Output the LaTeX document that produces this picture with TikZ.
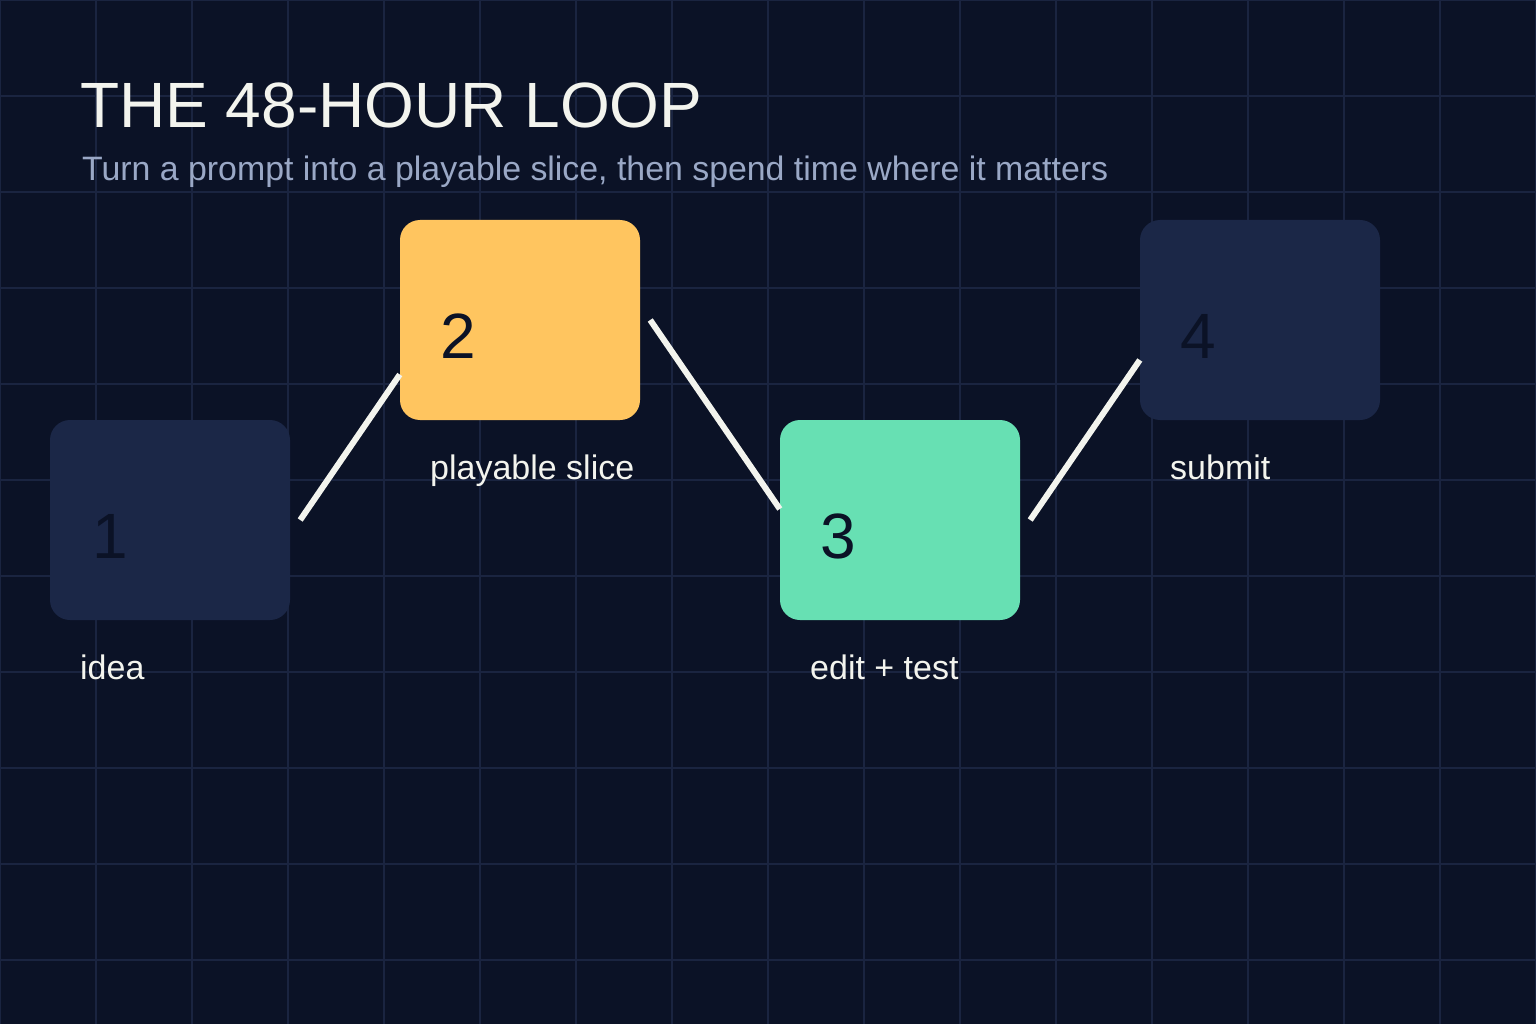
\documentclass[tikz,border=0pt]{standalone}
\usepackage{fontspec}
\setmainfont{Liberation Sans}
\usetikzlibrary{calc}
\definecolor{night}{HTML}{0B1226}
\definecolor{gridline}{HTML}{1A2440}
\definecolor{slate}{HTML}{1B2747}
\definecolor{honey}{HTML}{FFC55F}
\definecolor{mint}{HTML}{67E0B3}
\definecolor{paper}{HTML}{F3F4EE}
\definecolor{mist}{HTML}{9AA8C6}
\newcommand{\px}[1]{\fontsize{#1}{#1}\selectfont}

\begin{document}
\begin{tikzpicture}[x=1pt, y=-1pt,
    box/.style={rounded corners=20pt, minimum width=240pt,
      minimum height=200pt, inner sep=0pt},
    num/.style={anchor=base west, inner sep=0pt, text=night, font=\px{64}},
    lbl/.style={anchor=base west, inner sep=0pt, text=paper, font=\px{34}},
    link/.style={draw=paper, line width=6pt}]
    \fill[night] (0,0) rectangle (1536,1024);
    \useasboundingbox (0,0) rectangle (1536,1024);
    \foreach \x in {0,96,...,1536}
      \draw[gridline, line width=1.5pt] (\x,0) -- (\x,1024);
    \foreach \y in {0,96,...,1024}
      \draw[gridline, line width=1.5pt] (0,\y) -- (1536,\y);
    \node[anchor=base west, inner sep=0pt, text=paper, font=\px{64}]
      (title) at (80,128) {THE 48-HOUR LOOP};
    \node[anchor=base west, inner sep=0pt, text=mist, font=\px{33.85}]
      (sub) at (82,181)
      {Turn a prompt into a playable slice, then spend time where it matters};
    \node[box, fill=slate] (b1) at (170,520) {};
    \node[box, fill=honey] (b2) at (520,320) {};
    \node[box, fill=mint] (b3) at (900,520) {};
    \node[box, fill=slate] (b4) at (1260,320) {};
    \node[num] (n1) at (92,558) {1};
    \node[num] (n2) at (440,358) {2};
    \node[num] (n3) at (820,558) {3};
    \node[num] (n4) at (1180,358) {4};
    \node[lbl] (idea) at (80,679) {idea};
    \node[lbl] (slice) at (430,479) {playable slice};
    \node[lbl] (test) at (810,679) {edit + test};
    \node[lbl] (submit) at (1170,479) {submit};
    \draw[link] ($(b1.east)+(10,0)$) -- ($(b2.west)+(0,54.5)$);
    \draw[link] ($(b2.east)+(10,0)$) -- ($(b3.west)+(0,-11)$);
    \draw[link] ($(b3.east)+(10,0)$) -- ($(b4.west)+(0,40)$);
  \end{tikzpicture}
\end{document}
